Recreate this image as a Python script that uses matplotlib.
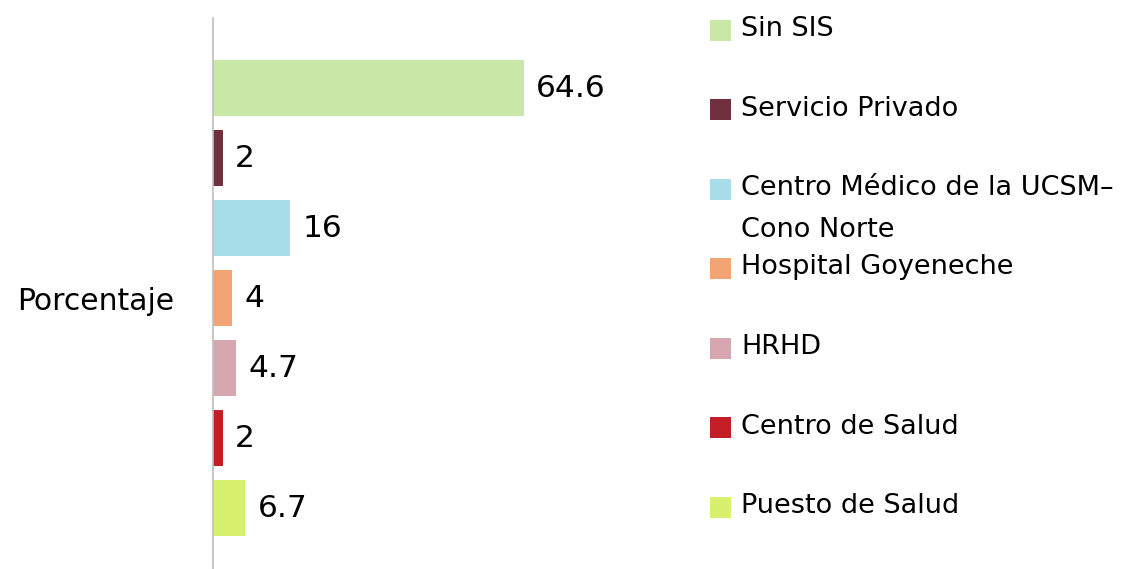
import matplotlib.pyplot as plt
from matplotlib.patches import Rectangle

categories = [
    "Sin SIS",
    "Servicio Privado",
    "Centro Médico de la UCSM–\nCono Norte",
    "Hospital Goyeneche",
    "HRHD",
    "Centro de Salud",
    "Puesto de Salud",
]
values = [64.6, 2, 16, 4, 4.7, 2, 6.7]
value_labels = ["64.6", "2", "16", "4", "4.7", "2", "6.7"]
colors = ["#C9E7A7", "#722F3F", "#A6DDE9", "#F3A474", "#D6A7B0", "#C41E26", "#D7F16E"]
group_label = "Porcentaje"

W, H = 1130, 569
fig = plt.figure(figsize=(W / 100, H / 100), dpi=100)
ax = fig.add_axes([213 / W, 0, (700 - 213) / W, 1 - 18 / H])

positions = list(range(len(values)))
ax.barh(positions, values, height=0.8, color=colors, linewidth=0)
for pos, val, lab in zip(positions, values, value_labels):
    ax.annotate(lab, (val, pos), xytext=(9, 0), textcoords="offset points",
                va="center", ha="left", fontsize=22.5)

ax.set_ylim(6.871, -1.0)
ax.set_xlim(0, 101.2)
ax.set_yticks([(len(values) - 1) / 2])
ax.set_yticklabels([group_label], fontsize=21.5)
ax.tick_params(axis="y", length=0, pad=28)
ax.set_xticks([])
for side in ["top", "right", "bottom"]:
    ax.spines[side].set_visible(False)
ax.spines["left"].set_color("#BFBFBF")
ax.spines["left"].set_linewidth(1.2)

# legend, one entry per category, drawn in figure pixels
for i, (name, color) in enumerate(zip(categories, colors)):
    yc = 30 + 79.5 * i
    fig.add_artist(Rectangle((710 / W, 1 - (yc + 10.5) / H), 21 / W, 21 / H,
                             facecolor=color, edgecolor="none",
                             transform=fig.transFigure))
    for j, line in enumerate(name.split("\n")):
        fig.text(741 / W, 1 - (yc - 1 + 42 * j) / H, line, fontsize=19.5,
                 va="center", ha="left")

fig.savefig("out.png", dpi=100)
